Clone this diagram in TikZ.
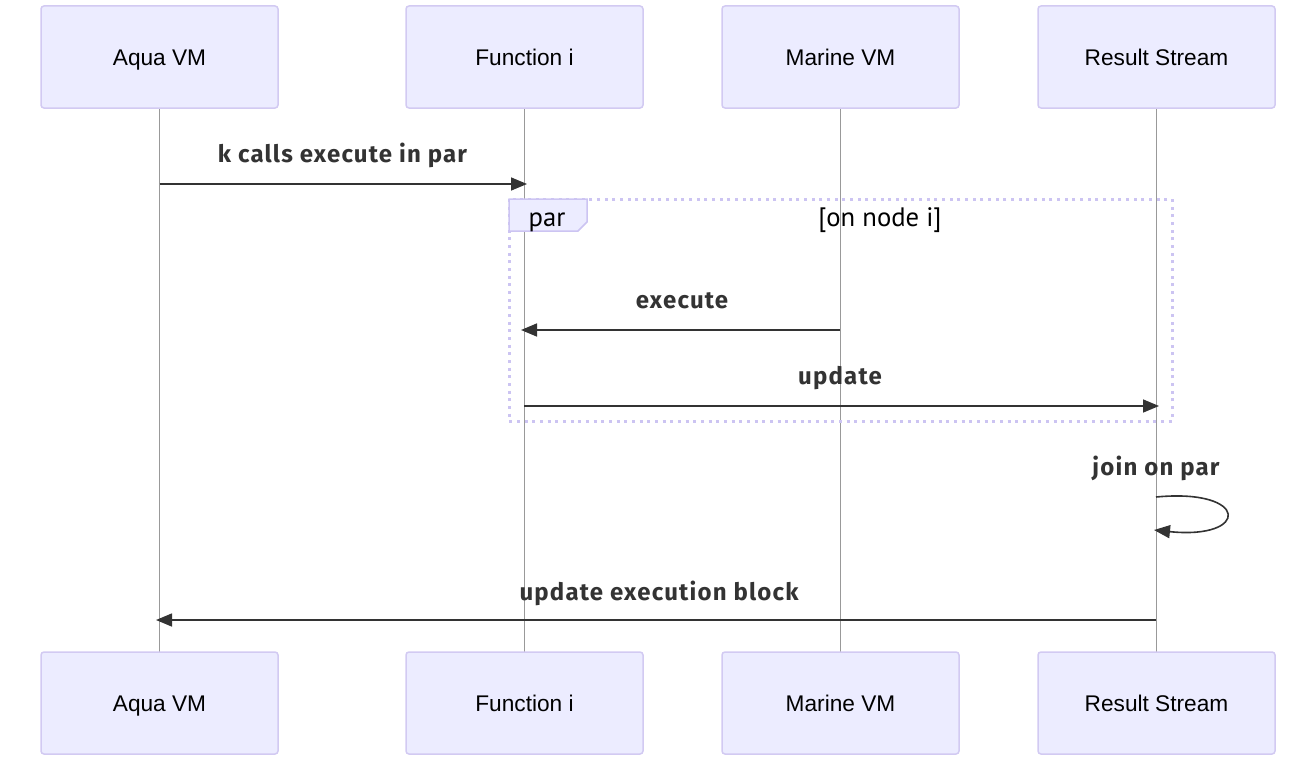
\documentclass[tikz,border=0pt]{standalone}
\usepackage{fontspec}
\setmainfont{Liberation Sans}
\newfontfamily\msgfont[LetterSpace=5]{Fira Sans}
\newfontfamily\parfont{PT Sans}
\usetikzlibrary{arrows.meta}
\definecolor{actfill}{HTML}{ECECFF}
\definecolor{actdraw}{HTML}{D2CAF2}
\definecolor{lifegray}{HTML}{999999}
\definecolor{msgcol}{HTML}{333333}
\definecolor{pardraw}{HTML}{CCC4F2}
\tikzset{
  actor/.style={draw=actdraw, fill=actfill, line width=1.125pt, rounded corners=2.25pt,
    minimum width=177.75pt, minimum height=76.5pt, inner sep=0pt},
  actortext/.style={inner sep=0pt, anchor=base, font=\fontsize{17}{19}\selectfont, text=black},
  lifeline/.style={draw=lifegray, line width=0.6pt},
  msg/.style={draw=msgcol, line width=1.2pt, -{Triangle[length=12pt,width=9.75pt]}},
  msglabel/.style={inner sep=0pt, anchor=base, font=\msgfont\bfseries\fontsize{18}{20}\selectfont, text=msgcol},
  parlabel/.style={inner sep=0pt, anchor=base, font=\parfont\fontsize{20}{22}\selectfont, text=black},
}
\begin{document}
\begin{tikzpicture}[x=0.75pt,y=-0.75pt]
\useasboundingbox (0,0) rectangle (1316,774);
% lifelines
\foreach \n/\x in {a/159.5,f/524,m/840,r/1156}{
  \coordinate (\n top) at (\x,108);
  \coordinate (\n bot) at (\x,652);
  \draw[lifeline] (\n top) -- (\n bot);
}
% actors
\foreach \n/\x/\t in {a/159.5/Aqua VM,f/524.5/Function i,m/840.5/Marine VM,r/1156.5/Result Stream}{
  \node[actor] (\n T) at (\x,57) {};
  \node[actortext] (\n Tt) at (\x,65) {\t};
  \node[actor] (\n B) at (\x,703) {};
  \node[actortext] (\n Bt) at (\x,711) {\t};
}
% par box
\draw[draw=pardraw, line width=2.25pt, dash pattern=on 2.25pt off 3.5pt] (509,199) rectangle (1172,421);
\draw[draw=pardraw, fill=actfill, line width=1.125pt] (509,199) -- (587,199) -- (587,222) -- (578,231) -- (509,231) -- cycle;
\node[parlabel] (parl) at (547,226) {par};
\node[parlabel] (parc) at (880,226) {[on node i]};
% message coordinates
\coordinate (m1s) at (159.5,184); \coordinate (m1e) at (527,184);
\coordinate (m2s) at (840,330); \coordinate (m2e) at (521,330);
\coordinate (m3s) at (524,406); \coordinate (m3e) at (1159,406);
\coordinate (m4s) at (1156,497); \coordinate (m4e) at (1154,530);
\coordinate (m5s) at (1156,620); \coordinate (m5e) at (156,620);
\node[msglabel] (l1) at (342.5,162) {k calls execute in par};
\node[msglabel] (l2) at (682,308) {execute};
\node[msglabel] (l3) at (840,384) {update};
\node[msglabel] (l4) at (1156,475) {join on par};
\node[msglabel] (l5) at (659,600) {update execution block};
\draw[msg] (m1s) -- (m1e);
\draw[msg] (m2s) -- (m2e);
\draw[msg] (m3s) -- (m3e);
\draw[msg] (m4s) .. controls (1250,488) and (1250,540) .. (m4e);
\draw[msg] (m5s) -- (m5e);
\end{tikzpicture}
\end{document}
